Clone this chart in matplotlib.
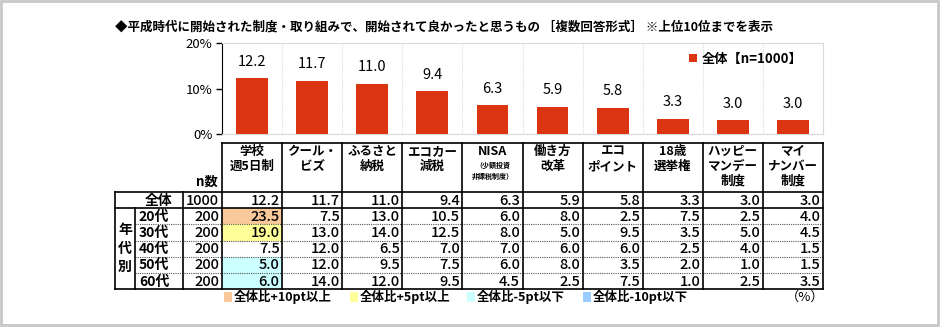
import matplotlib
matplotlib.use("Agg")
import matplotlib.pyplot as plt
from matplotlib.patches import Rectangle

plt.rcParams['font.family'] = ['Noto Sans CJK JP', 'DejaVu Sans']

TITLE = "◆平成時代に開始された制度・取り組みで、開始されて良かったと思うもの ［複数回答形式］ ※上位10位までを表示"

items = ["学校\n週5日制", "クール・\nビズ", "ふるさと\n納税", "エコカー\n減税", "NISA",
         "働き方\n改革", "エコ\nポイント", "18歳\n選挙権", "ハッピー\nマンデー\n制度",
         "マイ\nナンバー\n制度"]
total = [12.2, 11.7, 11.0, 9.4, 6.3, 5.9, 5.8, 3.3, 3.0, 3.0]
total_n = 1000

ages = ["20代", "30代", "40代", "50代", "60代"]
age_n = [200, 200, 200, 200, 200]
age_vals = [
    [23.5, 7.5, 13.0, 10.5, 6.0, 8.0, 2.5, 7.5, 2.5, 4.0],
    [19.0, 13.0, 14.0, 12.5, 8.0, 5.0, 9.5, 3.5, 5.0, 4.5],
    [7.5, 12.0, 6.5, 7.0, 7.0, 6.0, 6.0, 2.5, 4.0, 1.5],
    [5.0, 12.0, 9.5, 7.5, 6.0, 8.0, 3.5, 2.0, 1.0, 1.5],
    [6.0, 14.0, 12.0, 9.5, 4.5, 2.5, 7.5, 1.0, 2.5, 3.5],
]

legend_labels = ["全体比+10pt以上", "全体比+5pt以上", "全体比-5pt以下", "全体比-10pt以下"]
legend_colors = ["#F9C89B", "#FFFF99", "#CCFFFF", "#99CCFF"]

BAR_COLOR = "#DA3510"
W, H = 940, 327

# layout in pixels
PX_L, PX_R = 222, 823
BAR_TOP, BAR_BOT = 43, 134
HEAD_TOP, HEAD_BOT = 143, 192
ROW_H = 16.2
col_w = (PX_R - PX_L) / len(items)


def cell_color(v, base):
    d = v - base
    if d >= 10:
        return legend_colors[0]
    if d >= 5:
        return legend_colors[1]
    if d <= -10:
        return legend_colors[3]
    if d <= -5:
        return legend_colors[2]
    return None


fig = plt.figure(figsize=(W / 100, H / 100), dpi=100)

# overlay axes in pixel coordinates for table / frame / title
tx = fig.add_axes([0, 0, 1, 1])
tx.set_xlim(0, W)
tx.set_ylim(H, 0)
tx.axis("off")

tx.add_patch(Rectangle((1, 1), W - 3, H - 3, fill=False, ec="#c8c8c8", lw=2))
tx.text(115, 27, TITLE, fontsize=9, fontweight="bold", va="center", ha="left")

# ---- bar chart ----
ax = fig.add_axes([PX_L / W, 1 - BAR_BOT / H, (PX_R - PX_L) / W, (BAR_BOT - BAR_TOP) / H])
x = list(range(len(items)))
bars = ax.bar(x, total, width=0.53, color=BAR_COLOR, label="全体【n=1000】", zorder=3)
ax.bar_label(bars, labels=[f"{v:.1f}" for v in total], padding=7, fontsize=10.5)
ax.set_xlim(-0.5, len(items) - 0.5)
ax.set_ylim(0, 20)
ax.set_yticks([0, 10, 20])
ax.set_yticklabels(["0%", "10%", "20%"], fontsize=9.5)
ax.set_xticks([])
ax.tick_params(axis="y", length=4, width=1, pad=3)
for i in range(1, len(items)):
    ax.axvline(i - 0.5, color="#dcdcdc", lw=0.8, ls=(0, (1, 1)), zorder=1)
ax.spines["left"].set_color("black")
for s in ["top", "right", "bottom"]:
    ax.spines[s].set_color("#d9d9d9")
ax.legend(loc="upper right", bbox_to_anchor=(0.975, 0.96), frameon=False,
          prop={"weight": "bold", "size": 9.5}, handlelength=0.6, handleheight=0.6,
          handletextpad=0.4, borderaxespad=0)

# ---- table ----
n_rows = 1 + len(ages)
row_tops = [HEAD_BOT + ROW_H * i for i in range(n_rows + 1)]
tbl_bot = row_tops[-1]
col_edges = [PX_L + col_w * i for i in range(len(items) + 1)]

# header boxes
tx.plot([PX_L, PX_R], [HEAD_TOP, HEAD_TOP], color="black", lw=1.2)
for i, name in enumerate(items):
    cx = PX_L + col_w * (i + 0.5)
    tx.text(cx, HEAD_TOP + 2, name, fontsize=9, fontweight="bold", ha="center", va="top",
            linespacing=1.2)
    if name == "NISA":
        tx.text(cx, HEAD_TOP + 19, "（少額投資\n非課税制度）", fontsize=5, fontweight="bold",
                ha="center", va="top", linespacing=1.6)

tx.text(218, HEAD_BOT - 3, "n数", fontsize=9.5, fontweight="bold", ha="right", va="bottom")

# cell highlight
for r, vals in enumerate(age_vals):
    for c, v in enumerate(vals):
        col = cell_color(v, total[c])
        if col:
            tx.add_patch(Rectangle((col_edges[c], row_tops[r + 1]), col_w, ROW_H,
                                   color=col, lw=0, zorder=0))

# values
def row_text(r, n, vals):
    yc = (row_tops[r] + row_tops[r + 1]) / 2 + 0.5
    tx.text(219, yc, str(n), fontsize=10.5, fontweight="medium", ha="right", va="center")
    for c, v in enumerate(vals):
        tx.text(col_edges[c + 1] - 2.5, yc, f"{v:.1f}", fontsize=10.5, fontweight="medium",
                ha="right", va="center")

tx.text(159, (row_tops[0] + row_tops[1]) / 2 + 0.5, "全体", fontsize=10, fontweight="bold",
        ha="center", va="center")
row_text(0, total_n, total)
for r, age in enumerate(ages):
    yc = (row_tops[r + 1] + row_tops[r + 2]) / 2 + 0.5
    tx.text(154, yc, age, fontsize=10, fontweight="bold", ha="center", va="center")
    row_text(r + 1, age_n[r], age_vals[r])

mid_age = (row_tops[1] + row_tops[-1]) / 2
for k, ch in enumerate("年代別"):
    tx.text(125, mid_age + (k - 1) * 18.5, ch, fontsize=10, fontweight="bold",
            ha="center", va="center")

# horizontal lines
tx.plot([115, PX_R], [row_tops[0]] * 2, color="black", lw=1.2)
tx.plot([115, PX_R], [row_tops[1]] * 2, color="black", lw=1.2)
for r in range(2, n_rows):
    tx.plot([135, PX_R], [row_tops[r]] * 2, color="#555555", lw=0.8, ls=(0, (1, 1)))
tx.plot([115, PX_R], [tbl_bot] * 2, color="black", lw=1.2)

# vertical lines
tx.plot([115, 115], [row_tops[0], tbl_bot], color="black", lw=1.2)
tx.plot([135, 135], [row_tops[1], tbl_bot], color="black", lw=1.2)
tx.plot([183, 183], [row_tops[0], tbl_bot], color="black", lw=1.2)
for xe in col_edges:
    tx.plot([xe, xe], [HEAD_TOP, tbl_bot], color="black", lw=1.2)

# color legend
leg_x = [224, 350, 467, 583]
for lx, lab, col in zip(leg_x, legend_labels, legend_colors):
    tx.add_patch(Rectangle((lx, 292), 8, 10, color=col, lw=0))
    tx.text(lx + 10, 297, lab, fontsize=9, fontweight="bold", ha="left", va="center")
tx.text(805, 297, "（%）", fontsize=9.5, ha="center", va="center")

fig.savefig("out.png", dpi=100)
